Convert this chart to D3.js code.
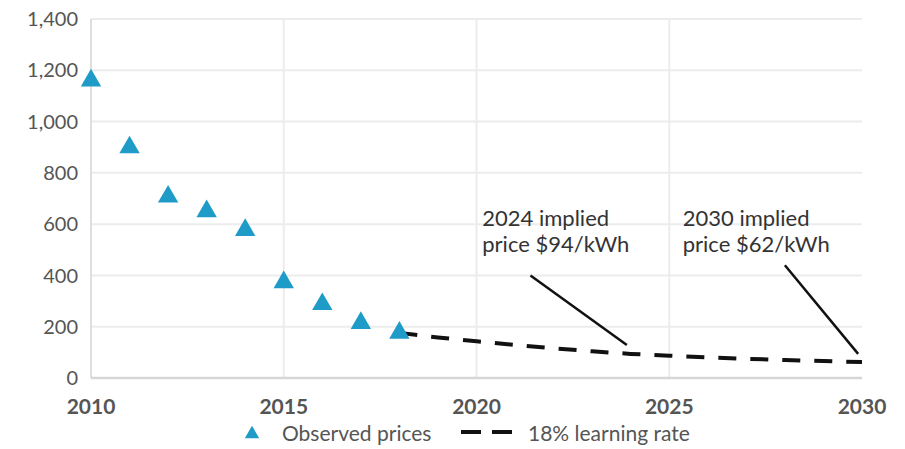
<!DOCTYPE html>
<html>
<head>
<meta charset="utf-8">
<script src="https://cdn.jsdelivr.net/npm/d3@7"></script>
<style>
  html, body { margin: 0; padding: 0; background: #fff; }
  svg { display: block; font-family: Lato, "Open Sans", sans-serif; }
</style>
</head>
<body>
<svg id="chart" width="905" height="449"></svg>
<script>
// Battery pack prices, $/kWh
const observedYears = [2010, 2011, 2012, 2013, 2014, 2015, 2016, 2017, 2018];
const observedPrices = [1160, 899, 707, 650, 577, 373, 288, 214, 176];

// Projection along an 18% learning rate
const projectionYears = [2018, 2019, 2020, 2021, 2022, 2023, 2024, 2025, 2026, 2027, 2028, 2029, 2030];
const projectionPrices = [176, 158, 143, 129, 116, 104, 94, 87, 80, 75, 70, 66, 62];

const xTicks = [2010, 2015, 2020, 2025, 2030];
const yTicks = [0, 200, 400, 600, 800, 1000, 1200, 1400];

const legendLabels = ["Observed prices", "18% learning rate"];

// Callouts: label lines, where the label starts, and the leader toward the projected price
const calloutLines = [
  ["2024 implied", "price $94/kWh"],
  ["2030 implied", "price $62/kWh"]
];
const calloutTextYears = [2020.15, 2025.35];
const leaderFrom = [[2021.4, 400], [2028.0, 440]];
const leaderTo = [[2023.9, 129], [2029.9, 94]];

const svg = d3.select("#chart");
const x = d3.scaleLinear().domain([2010, 2030]).range([91, 862]);
const y = d3.scaleLinear().domain([0, 1400]).range([378, 19]);

svg.append("rect").attr("width", 905).attr("height", 449).attr("fill", "#fff");

// Horizontal gridlines
svg.append("g").selectAll("line")
  .data(yTicks.filter(d => d > 0))
  .join("line")
  .attr("x1", x(2010)).attr("x2", x(2030))
  .attr("y1", d => y(d)).attr("y2", d => y(d))
  .attr("stroke", "#ececec").attr("stroke-width", 2);

// Vertical gridlines
svg.append("g").selectAll("line")
  .data(xTicks.filter(d => d > 2010 && d < 2030))
  .join("line")
  .attr("x1", d => x(d)).attr("x2", d => x(d))
  .attr("y1", y(1400)).attr("y2", y(0))
  .attr("stroke", "#ececec").attr("stroke-width", 2);

// Axis lines
svg.append("line")
  .attr("x1", x(2010)).attr("x2", x(2010))
  .attr("y1", y(1400)).attr("y2", y(0))
  .attr("stroke", "#dedede").attr("stroke-width", 2);
svg.append("line")
  .attr("x1", x(2010)).attr("x2", x(2030))
  .attr("y1", y(0)).attr("y2", y(0))
  .attr("stroke", "#d6d6d6").attr("stroke-width", 2.5);

// Y tick labels
svg.append("g").selectAll("text")
  .data(yTicks)
  .join("text")
  .attr("x", 78)
  .attr("y", d => y(d))
  .attr("dy", "0.36em")
  .attr("text-anchor", "end")
  .attr("font-size", 20)
  .attr("fill", "#555")
  .text(d3.format(","));

// X tick labels
svg.append("g").selectAll("text")
  .data(xTicks)
  .join("text")
  .attr("x", d => x(d))
  .attr("y", 406)
  .attr("dy", "0.36em")
  .attr("text-anchor", "middle")
  .attr("font-size", 21)
  .attr("font-weight", "bold")
  .attr("fill", "#555")
  .text(d => d);

// Projected price line
const projLine = d3.line()
  .x((d, i) => x(projectionYears[i]))
  .y(d => y(d));
svg.append("path")
  .datum(projectionPrices)
  .attr("d", projLine)
  .attr("fill", "none")
  .attr("stroke", "#111")
  .attr("stroke-width", 4)
  .attr("stroke-dasharray", "18,14");

// Observed prices
const tri = d3.symbol().type(d3.symbolTriangle).size(180);
svg.append("g").selectAll("path")
  .data(observedPrices)
  .join("path")
  .attr("transform", (d, i) => `translate(${x(observedYears[i])},${y(d)})`)
  .attr("d", tri)
  .attr("fill", "#1f9bc8");

// Callouts
const callouts = svg.append("g");
calloutLines.forEach((lines, i) => {
  callouts.append("line")
    .attr("x1", x(leaderFrom[i][0])).attr("y1", y(leaderFrom[i][1]))
    .attr("x2", x(leaderTo[i][0])).attr("y2", y(leaderTo[i][1]))
    .attr("stroke", "#111").attr("stroke-width", 2.5);
  const tx = x(calloutTextYears[i]);
  const t = callouts.append("text")
    .attr("x", tx)
    .attr("y", 226)
    .attr("font-size", 22)
    .attr("fill", "#333");
  lines.forEach((s, j) => {
    t.append("tspan").attr("x", tx).attr("dy", j === 0 ? 0 : 26).text(s);
  });
});

// Legend
const legend = svg.append("g");
legend.append("path")
  .attr("transform", "translate(252,434)")
  .attr("d", d3.symbol().type(d3.symbolTriangle).size(90))
  .attr("fill", "#1f9bc8");
legend.append("text")
  .attr("x", 282).attr("y", 433).attr("dy", "0.36em")
  .attr("font-size", 21).attr("fill", "#555")
  .text(legendLabels[0]);
legend.append("line")
  .attr("x1", 461).attr("x2", 512)
  .attr("y1", 432).attr("y2", 432)
  .attr("stroke", "#111").attr("stroke-width", 4)
  .attr("stroke-dasharray", "20,11");
legend.append("text")
  .attr("x", 528).attr("y", 433).attr("dy", "0.36em")
  .attr("font-size", 21).attr("fill", "#555")
  .text(legendLabels[1]);
</script>
</body>
</html>
